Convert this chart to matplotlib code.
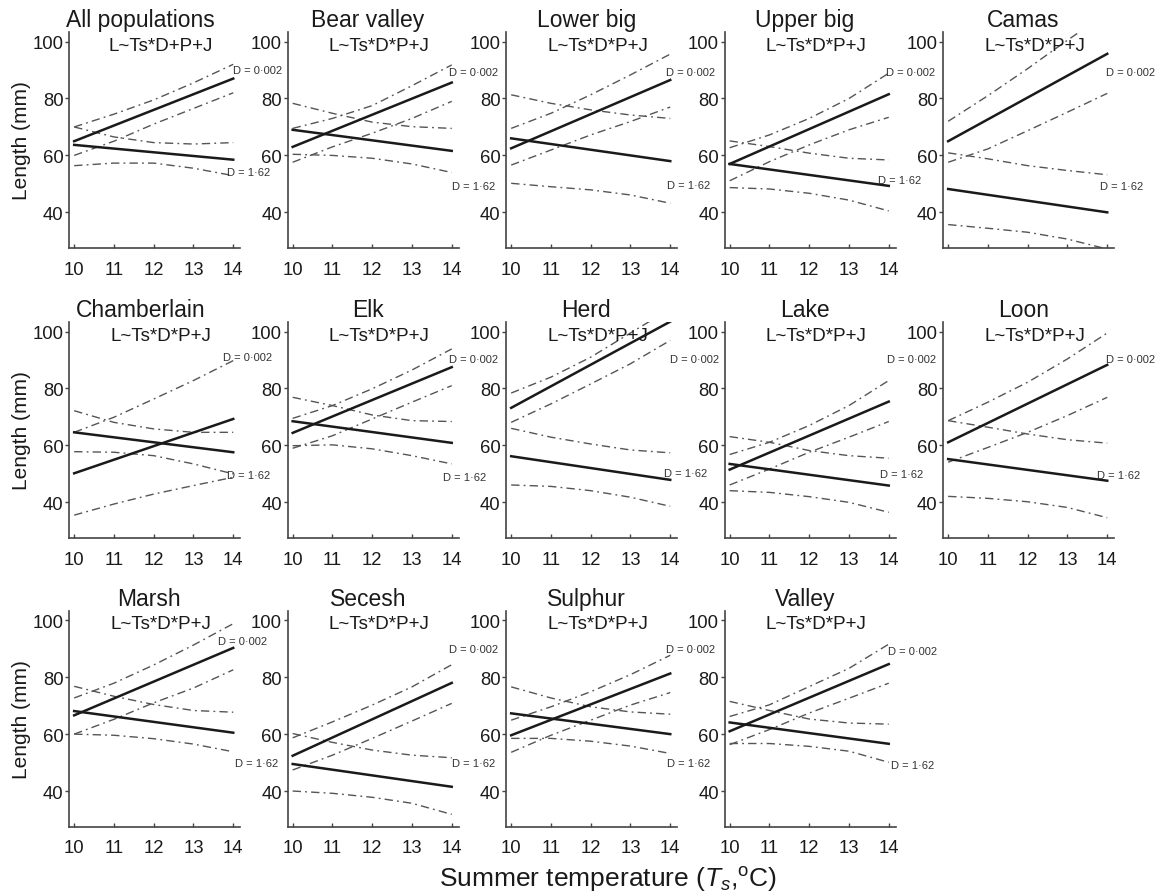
import numpy as np
import matplotlib
matplotlib.use("Agg")
import matplotlib.pyplot as plt

plt.rcParams['font.family'] = ['Liberation Sans', 'DejaVu Sans']
plt.rcParams['mathtext.fontset'] = 'custom'
plt.rcParams['mathtext.rm'] = 'Liberation Sans'
plt.rcParams['mathtext.it'] = 'Liberation Sans:italic'

########## data ##########
populations = ['All populations', 'Bear valley', 'Lower big', 'Upper big', 'Camas',
               'Chamberlain', 'Elk', 'Herd', 'Lake', 'Loon',
               'Marsh', 'Secesh', 'Sulphur', 'Valley']
models = ['L~Ts*D+P+J'] + ['L~Ts*D*P+J'] * 13

temps_fit = [10, 14]
temps_ci = [10, 11, 12, 13, 14]

# D = 0.002 (small distance) fitted line and its confidence bands
small_fit = [[65, 87], [63, 85.6], [62.5, 86.5], [57, 81.5], [65, 95.7],
             [50.2, 69.3], [64.4, 87.5], [73.2, 103.5], [51.5, 75.4], [61.1, 88.3],
             [66.6, 90.3], [52.4, 78], [59.6, 81.3], [61, 84.6]]
small_hi = [[70, 74.5, 79.5, 85.5, 92], [69.5, 73, 77.5, 84.5, 91.8],
            [69.5, 74.8, 81.3, 88.3, 95.6], [62.7, 67.2, 73, 80, 88.9],
            [72, 81, 90.5, 100.5, 110], [64.6, 69.9, 76.3, 82.8, 89.8],
            [69.5, 74, 79.9, 86.5, 93.9], [78.4, 84, 91, 99.5, 108],
            [56.8, 61.1, 67, 74, 82.8], [68.7, 75.2, 82.2, 90.4, 99.5],
            [72.7, 77.9, 84.3, 91.3, 98.8], [58.7, 64.3, 70.2, 76.6, 84.4],
            [64.9, 69.6, 74.9, 80.9, 87.7], [66.2, 70.3, 76.7, 83.1, 91.6]]
small_lo = [[60, 65, 71, 76.5, 82], [57.6, 63, 67.8, 73, 79],
            [56.6, 61.9, 67.2, 71.9, 77], [51.1, 57.8, 63.7, 69, 73.4],
            [57.6, 62.3, 68.7, 75.2, 81.8], [35.5, 39.4, 42.9, 45.9, 48.8],
            [59, 63.4, 69.3, 75.2, 81], [68.1, 74.6, 81.6, 88.7, 96.9],
            [46.1, 51.7, 57.6, 62.9, 68.4], [54.1, 59.3, 64.6, 70.5, 76.9],
            [60, 65.2, 71, 76.2, 82.6], [47.4, 52.6, 58.5, 64.6, 70.8],
            [53.6, 59.6, 64.9, 70.2, 74.6], [56.3, 61.6, 67.4, 72.6, 77.9]]

# D = 1.62 (large distance) fitted line and its confidence bands
large_fit = [[63.7, 58.5], [69, 61.6], [66, 58], [57, 49.3], [48.2, 40],
             [64.6, 57.6], [68.5, 60.9], [56.2, 47.9], [53.5, 45.9], [55.2, 47.6],
             [68.1, 60.5], [49.5, 41.5], [67.3, 60], [64.1, 56.6]]
large_hi = [[70, 66.5, 64.5, 64, 64.5], [78.3, 74.8, 71.7, 70.1, 69.5],
            [81.3, 78.3, 76, 74.2, 73], [65.1, 63.1, 60.8, 59, 58.4],
            [60.9, 58.8, 56.4, 54.7, 53.2], [72.2, 68.1, 65.8, 64.6, 64.6],
            [76.9, 74, 70.7, 68.7, 68.4], [66, 62.9, 60.5, 58.4, 57.4],
            [63.1, 61.1, 58.2, 56.4, 55.5], [68.7, 66.4, 64, 62, 60.8],
            [76.8, 73.3, 70.4, 68.3, 67.7], [60.2, 57.1, 54.4, 52.6, 51.7],
            [76.6, 72.7, 69.6, 67.8, 67], [71.5, 68.3, 65.3, 63.9, 63.5]]
large_lo = [[56.4, 57.3, 57.3, 55.5, 52.9], [60.4, 60, 59, 57, 54],
            [50.2, 49, 47.9, 46.1, 43.2], [48.7, 48.2, 46.7, 44.3, 40.5],
            [35.7, 34.4, 33, 30.6, 27.1], [57.8, 57.6, 56.4, 53.5, 50],
            [59.9, 60.2, 58.8, 56.4, 53.5], [46.1, 45.6, 44.1, 41.8, 38.6],
            [44.1, 43.5, 42, 40, 36.5], [42.1, 41.4, 40.2, 38.2, 34.6],
            [60, 59.6, 58.4, 56.5, 53.8], [40, 39.2, 37.8, 35.7, 31.8],
            [58.5, 58.5, 57.5, 55.8, 53.2], [56.7, 56.7, 55.7, 54, 50.1]]

# where the "D = ..." tags sit (data coords, left edge / centre)
small_tag_xy = [(14.0, 90), (13.93, 89.4), (13.9, 89.4), (13.94, 89.4), (13.96, 89.4),
                (13.75, 91), (13.93, 90.4), (13.99, 90.4), (13.95, 90.4), (13.96, 90.4),
                (13.62, 92.7), (13.93, 89.8), (13.9, 89.8), (13.97, 89.3)]
large_tag_xy = [(13.85, 54), (14.0, 49.4), (13.93, 49.6), (13.74, 51.3), (13.83, 49.2),
                (13.85, 49.7), (13.78, 48.9), (13.85, 50.3), (13.79, 49.9), (13.75, 49.6),
                (14.05, 49.7), (14.0, 49.7), (13.92, 49.7), (14.05, 49.1)]

########## layout ##########
W, H = 1160, 895
fig = plt.figure(figsize=(W / 100, H / 100), dpi=100)

ax_w = 171 / W
ax_h = 216.3 / H
lefts = [69 / W + i * 218.5 / W for i in range(5)]
bottoms = [1 - 249.2 / H, 1 - 539.2 / H, 1 - 827.9 / H]

ink = '#1a1a1a'
band = '#555555'
dash_dot = (6, 3, 1.3, 3)

for k, name in enumerate(populations):
    row, col = divmod(k, 5)
    ax = fig.add_axes([lefts[col], bottoms[row], ax_w, ax_h])

    # confidence bands
    for ci in (small_hi[k], small_lo[k], large_hi[k], large_lo[k]):
        ax.plot(temps_ci, ci, color=band, lw=1.0, dashes=dash_dot)
    # fitted lines
    ax.plot(temps_fit, small_fit[k], color=ink, lw=1.8)
    ax.plot(temps_fit, large_fit[k], color=ink, lw=1.8)

    ax.text(small_tag_xy[k][0], small_tag_xy[k][1], 'D = 0\u00b7002', fontsize=8,
            color='#333333', ha='left', va='center')
    ax.text(large_tag_xy[k][0], large_tag_xy[k][1], 'D = 1\u00b762', fontsize=8,
            color='#333333', ha='left', va='center')

    ax.set_xlim(9.87, 14.17)
    ax.set_ylim(27.4, 103.4)
    ax.set_xticks([10, 11, 12, 13, 14])
    ax.set_yticks([40, 60, 80, 100])

    for side in ['top', 'right']:
        ax.spines[side].set_visible(False)
    for side in ['left', 'bottom']:
        ax.spines[side].set_color('#444444')
        ax.spines[side].set_linewidth(1.2)

    ax.tick_params(axis='y', direction='out', length=3, width=1, pad=1,
                   labelsize=13.3, colors='#444444', labelcolor=ink)
    ax.tick_params(axis='x', direction='in', length=3, width=1, pad=9,
                   labelsize=13.3, colors='#444444', labelcolor=ink)
    # Camas has no x tick labels in the source
    if name == 'Camas':
        ax.tick_params(axis='x', labelbottom=False)

    title_x = 0.42 if name in ('All populations', 'Chamberlain') else 0.47
    ax.text(title_x, 1.028, name, transform=ax.transAxes, ha='center', va='baseline',
            fontsize=16.5, color=ink)
    ax.text(0.535, 0.918, models[k], transform=ax.transAxes, ha='center', va='baseline',
            fontsize=13.5, color=ink)

    if col == 0:
        ax.set_ylabel('Length (mm)', fontsize=15, color=ink, labelpad=1)

fig.text(0.524, 0.017, r'Summer temperature ($T_{s}$,$^{\rm o}$C)', ha='center',
         va='center', fontsize=19, color=ink)

fig.savefig('out.png', dpi=100)
